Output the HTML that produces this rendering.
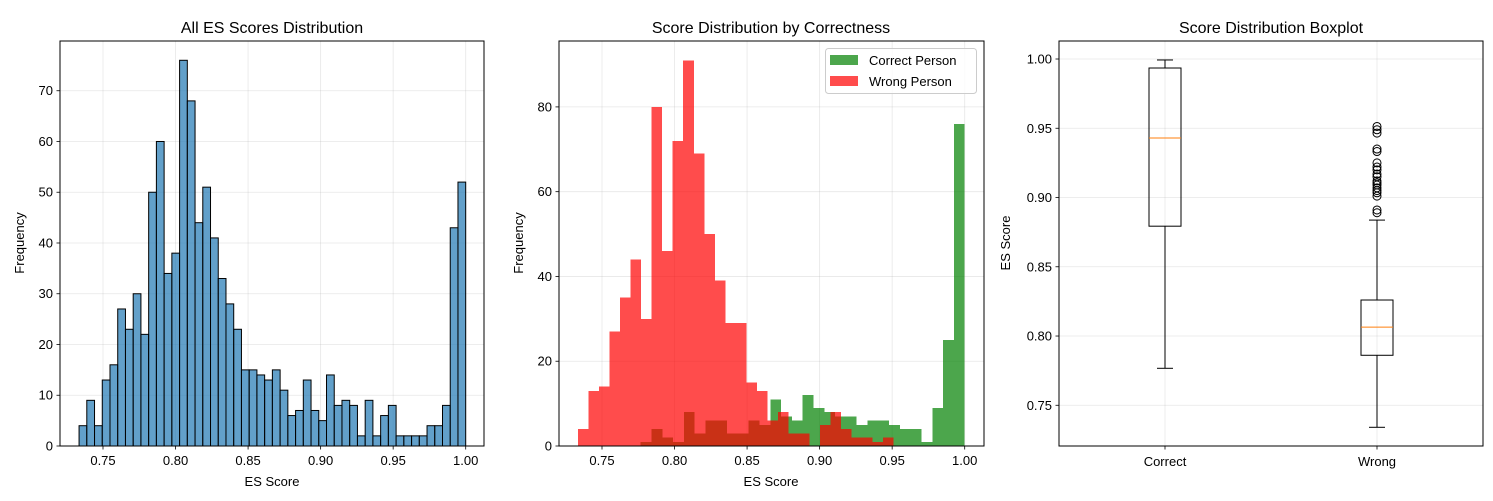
<!DOCTYPE html>
<html><head><meta charset="utf-8"><style>
body{margin:0;background:#fff;}
svg text{font-family:"Liberation Sans","DejaVu Sans",sans-serif;fill:#000;}
</style></head><body>
<svg id="fig" width="1493" height="496" xmlns="http://www.w3.org/2000/svg"></svg>
<script>
// Panel 1: all scores histogram (50 bins)
const allRange = [0.7335, 1.0];
const allCounts = [4,9,4,13,16,27,23,30,22,50,60,34,38,76,68,44,51,41,33,28,23,15,15,14,13,15,11,6,7,13,7,5,14,8,9,8,2,9,2,6,8,2,2,2,2,4,4,8,43,52];
const p1YTicks = [0,10,20,30,40,50,60,70];
const xTicks = [0.75,0.80,0.85,0.90,0.95,1.00];
// Panel 2: correctness histograms (30 bins each)
const correctRange = [0.7767, 1.0];
const correctCounts = [1,4,2,1,8,3,6,6,3,3,6,5,11,7,6,12,9,8,7,7,5,6,6,5,4,4,1,9,25,76];
const wrongRange = [0.7335, 0.951];
const wrongCounts = [4,13,14,27,35,44,30,80,46,72,91,69,50,39,29,29,15,13,6,8,3,3,0,5,8,4,2,2,1,2];
const p2YTicks = [0,20,40,60,80];
// Panel 3: boxplot stats
const boxCategories = ["Correct","Wrong"];
const boxLow = [0.7767, 0.7341];
const boxQ1 = [0.8793, 0.7861];
const boxMedian = [0.943, 0.8064];
const boxQ3 = [0.9935, 0.826];
const boxHigh = [0.9993, 0.8837];
const wrongFliers = [0.9513,0.9489,0.9465,0.935,0.9332,0.925,0.922,0.920,0.917,0.915,0.912,0.9106,0.909,0.907,0.905,0.9034,0.901,0.891,0.889];
const p3YTicks = [0.75,0.80,0.85,0.90,0.95,1.00];

const NS="http://www.w3.org/2000/svg";
const svg=document.getElementById('fig');
function mk(tag,attrs,parent){const e=document.createElementNS(NS,tag);for(const k in attrs)e.setAttribute(k,attrs[k]);(parent||svg).appendChild(e);return e;}
function txt(s,x,y,attrs,parent){const t=mk('text',Object.assign({x:x,y:y},attrs),parent);t.textContent=s;return t;}

const TOP=41,BOT=446;
function histX(off){return v=>off+103+(v-0.75)*1450.8;}

function drawFrame(g,L,R){mk('rect',{x:L,y:TOP,width:R-L,height:BOT-TOP,fill:'none',stroke:'#000','stroke-width':1},g);}
function gridX(g,xf){xTicks.forEach(t=>{const x=xf(t);
  mk('line',{x1:x,x2:x,y1:TOP,y2:BOT,stroke:'#b0b0b0','stroke-opacity':0.3,'stroke-width':0.8},g);
  mk('line',{x1:x,x2:x,y1:BOT,y2:BOT+3.5,stroke:'#000','stroke-width':0.8},g);
  txt(t.toFixed(2),x,BOT+19,{'font-size':13,'text-anchor':'middle'},g);});}
function gridY(g,L,R,ticks,yf,fmt){ticks.forEach(t=>{const y=yf(t);
  mk('line',{x1:L,x2:R,y1:y,y2:y,stroke:'#b0b0b0','stroke-opacity':0.3,'stroke-width':0.8},g);
  mk('line',{x1:L-3.5,x2:L,y1:y,y2:y,stroke:'#000','stroke-width':0.8},g);
  txt(fmt(t),L-7,y+4.5,{'font-size':13,'text-anchor':'end'},g);});}
function bars(g,range,counts,xf,yf,attrs,name){const w=(range[1]-range[0])/counts.length;
  counts.forEach((c,i)=>{if(c<=0)return;const x0=xf(range[0]+i*w),x1=xf(range[0]+(i+1)*w);
    const r=mk('rect',Object.assign({x:x0,y:yf(c),width:x1-x0,height:yf(0)-yf(c)},attrs),g);
    
    });}

// ---------- Panel 1
{const g=mk('g',{});
 const L=60,R=484,xf=histX(0),ymax=79.8,yf=v=>BOT-v*(BOT-TOP)/ymax;
 gridX(g,xf);gridY(g,L,R,p1YTicks,yf,t=>String(t));
 bars(g,allRange,allCounts,xf,yf,{fill:'#1f77b4','fill-opacity':0.7,stroke:'#000','stroke-width':1},'all');
 drawFrame(g,L,R);
 txt('All ES Scores Distribution',272,33,{'font-size':16,'text-anchor':'middle',},g);
 txt('ES Score',272,486,{'font-size':13,'text-anchor':'middle',},g);
 txt('Frequency',24,243,{'font-size':13,'text-anchor':'middle',transform:'rotate(-90 24 243)',},g);}

// ---------- Panel 2
{const g=mk('g',{});
 const L=559,R=984,xf=histX(499),ymax=95.55,yf=v=>BOT-v*(BOT-TOP)/ymax;
 gridX(g,xf);gridY(g,L,R,p2YTicks,yf,t=>String(t));
 bars(g,correctRange,correctCounts,xf,yf,{fill:'green','fill-opacity':0.7,'shape-rendering':'crispEdges'},'correct');
 bars(g,wrongRange,wrongCounts,xf,yf,{fill:'red','fill-opacity':0.7,'shape-rendering':'crispEdges'},'wrong');
 drawFrame(g,L,R);
 txt('Score Distribution by Correctness',771,33,{'font-size':16,'text-anchor':'middle',},g);
 txt('ES Score',771,486,{'font-size':13,'text-anchor':'middle',},g);
 txt('Frequency',523,243,{'font-size':13,'text-anchor':'middle',transform:'rotate(-90 523 243)',},g);
 const lg=mk('g',{},g);
 mk('rect',{x:825.5,y:48.5,width:151,height:45,rx:3,fill:'#fff','fill-opacity':0.8,stroke:'#ccc'},lg);
 const e1=mk('g',{},lg);
 mk('rect',{x:830,y:55,width:28,height:10,fill:'green','fill-opacity':0.7},e1);
 txt('Correct Person',869,65,{'font-size':13},e1);
 const e2=mk('g',{},lg);
 mk('rect',{x:830,y:76,width:28,height:10,fill:'red','fill-opacity':0.7},e2);
 txt('Wrong Person',869,86,{'font-size':13},e2);}

// ---------- Panel 3
{const g=mk('g',{});
 const L=1059,R=1483,ylo=0.7206,yhi=1.013,yf=v=>BOT-(v-ylo)*(BOT-TOP)/(yhi-ylo),xf=p=>L+(p-0.5)*(R-L)/2;
 gridY(g,L,R,p3YTicks,yf,t=>t.toFixed(2));
 boxCategories.forEach((c,i)=>{const x=xf(i+1);
   mk('line',{x1:x,x2:x,y1:TOP,y2:BOT,stroke:'#b0b0b0','stroke-opacity':0.3,'stroke-width':0.8},g);
   mk('line',{x1:x,x2:x,y1:BOT,y2:BOT+3.5,stroke:'#000','stroke-width':0.8},g);
   txt(c,x,BOT+20,{'font-size':13,'text-anchor':'middle',},g);
   const b=mk('g',{},g);
   const hw=16,cw=8;
   mk('line',{x1:x,x2:x,y1:yf(boxQ1[i]),y2:yf(boxLow[i]),stroke:'#000','stroke-width':1},b);
   mk('line',{x1:x,x2:x,y1:yf(boxQ3[i]),y2:yf(boxHigh[i]),stroke:'#000','stroke-width':1},b);
   mk('line',{x1:x-cw,x2:x+cw,y1:yf(boxLow[i]),y2:yf(boxLow[i]),stroke:'#000','stroke-width':1},b);
   mk('line',{x1:x-cw,x2:x+cw,y1:yf(boxHigh[i]),y2:yf(boxHigh[i]),stroke:'#000','stroke-width':1},b);
   mk('rect',{x:x-hw,y:yf(boxQ3[i]),width:2*hw,height:yf(boxQ1[i])-yf(boxQ3[i]),fill:'none',stroke:'#000','stroke-width':1},b);
   mk('line',{x1:x-hw,x2:x+hw,y1:yf(boxMedian[i]),y2:yf(boxMedian[i]),stroke:'#ff7f0e','stroke-width':1},b);
 });
 const xw=xf(2);
 wrongFliers.forEach((v,i)=>{const c=mk('circle',{cx:xw,cy:yf(v),r:4,fill:'none',stroke:'#000','stroke-width':1},g);
   
   });
 drawFrame(g,L,R);
 txt('Score Distribution Boxplot',1271,33,{'font-size':16,'text-anchor':'middle',},g);
 txt('ES Score',1010,243,{'font-size':13,'text-anchor':'middle',transform:'rotate(-90 1010 243)',},g);}
</script>
</body></html>
